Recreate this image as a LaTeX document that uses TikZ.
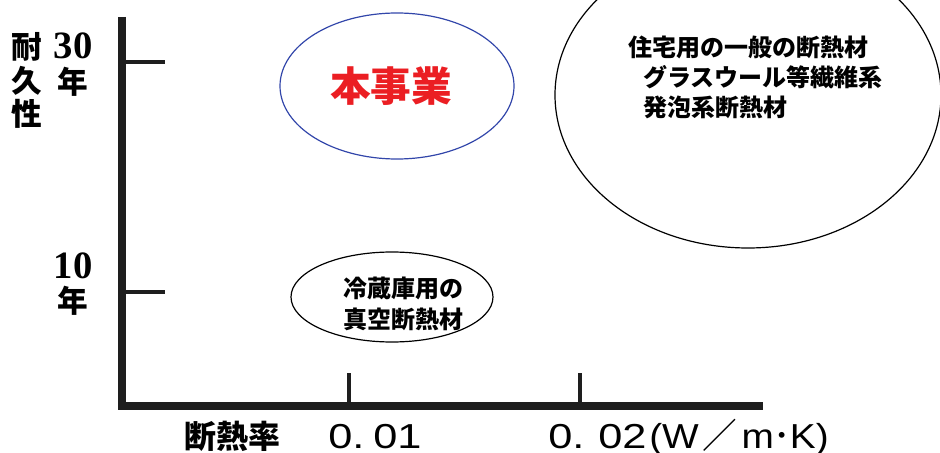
\documentclass[tikz,border=0pt]{standalone}
\usepackage{fontspec}
\newfontfamily\jp{Noto Sans CJK JP}
\newfontfamily\numserif{Liberation Serif}
\newfontfamily\numwide[FakeStretch=1.25]{Liberation Sans}
\newfontfamily\unitfont[FakeStretch=1.12]{Liberation Sans}
\definecolor{axisblack}{RGB}{30,30,30}
\definecolor{ellblue}{RGB}{50,70,170}
\definecolor{titlered}{RGB}{235,30,35}
\begin{document}
\begin{tikzpicture}[x=0.75pt,y=-0.75pt,
  axisline/.style={line width=6pt,draw=axisblack},
  tickline/.style={line width=2.6pt,draw=axisblack},
  ell/.style={draw=black,line width=0.9pt},
  lbl/.style={font=\jp\bfseries\fontsize{23}{26}\selectfont,inner sep=0pt},
  numlbl/.style={font=\numserif\bfseries\fontsize{29}{30}\selectfont,inner sep=0pt},
  tlbl/.style={font=\numwide\fontsize{26}{30}\selectfont,inner sep=0pt,anchor=base west},
  ulbl/.style={font=\unitfont\fontsize{26}{30}\selectfont,inner sep=0pt,anchor=base west},
  intext/.style={font=\jp\bfseries\fontsize{18}{23}\selectfont,inner sep=0pt,anchor=west}]
\useasboundingbox (0,0) rectangle (940,453);
\begin{scope}
\clip (0,0) rectangle (940,453);
% axes
\coordinate (ytop) at (122,17);
\coordinate (orig) at (122,406);
\coordinate (xend) at (763,406);
\draw[axisline,line cap=butt] (ytop) -- (122,410);
\draw[axisline] (118,406) -- (xend);
% ticks
\coordinate (t30a) at (122,62); \coordinate (t30b) at (165,62);
\coordinate (t10a) at (122,292); \coordinate (t10b) at (165,292);
\coordinate (x1a) at (349,373); \coordinate (x1b) at (349,406);
\coordinate (x2a) at (580,373); \coordinate (x2b) at (580,406);
\draw[tickline] (t30a) -- (t30b);
\draw[tickline] (t10a) -- (t10b);
\draw[tickline] (x1a) -- (x1b);
\draw[tickline] (x2a) -- (x2b);
% y labels
\node[lbl] (k1) at (27,47) {耐};
\node[lbl] (k2) at (27,81) {久};
\node[lbl] (k3) at (27,114) {性};
\node[numlbl] (n30) at (73,46) {30};
\node[lbl] (y30) at (73,82) {年};
\node[numlbl] (n10) at (73,266) {10};
\node[lbl] (y10) at (73,301) {年};
% x labels
\node[lbl,font=\jp\bfseries\fontsize{24}{26}\selectfont] (xl) at (232,436) {断熱率};
\node[tlbl] (v1a) at (328,448) {0.};
\node[tlbl] (v1b) at (373,448) {01};
\node[tlbl] (v2a) at (548,448) {0.};
\node[tlbl] (v2b) at (598,448) {02};
\node[ulbl] (unit) at (649,448) {(W\hspace{3pt}{\jp ／}\hspace{3pt}m\hspace{0pt}{\jp ･}\hspace{-1pt}K)};
% ellipses
\draw[draw=ellblue,line width=0.9pt] (397,86) ellipse [x radius=117,y radius=73];
\node[font=\jp\bfseries\fontsize{30.5}{32}\selectfont,text=titlered,inner sep=0pt] (hon) at (391,86) {本事業};
\draw[ell] (748,95) ellipse [x radius=193,y radius=153];
\node[intext] (r1) at (628,47) {住宅用の一般の断熱材};
\node[intext] (r2) at (643,77) {グラスウール等繊維系};
\node[intext] (r3) at (643,107) {発泡系断熱材};
\draw[ell] (392,297) ellipse [x radius=101,y radius=45];
\node[intext] (s1) at (343,288) {冷蔵庫用の};
\node[intext] (s2) at (343,319) {真空断熱材};
\end{scope}
\end{tikzpicture}
\end{document}
